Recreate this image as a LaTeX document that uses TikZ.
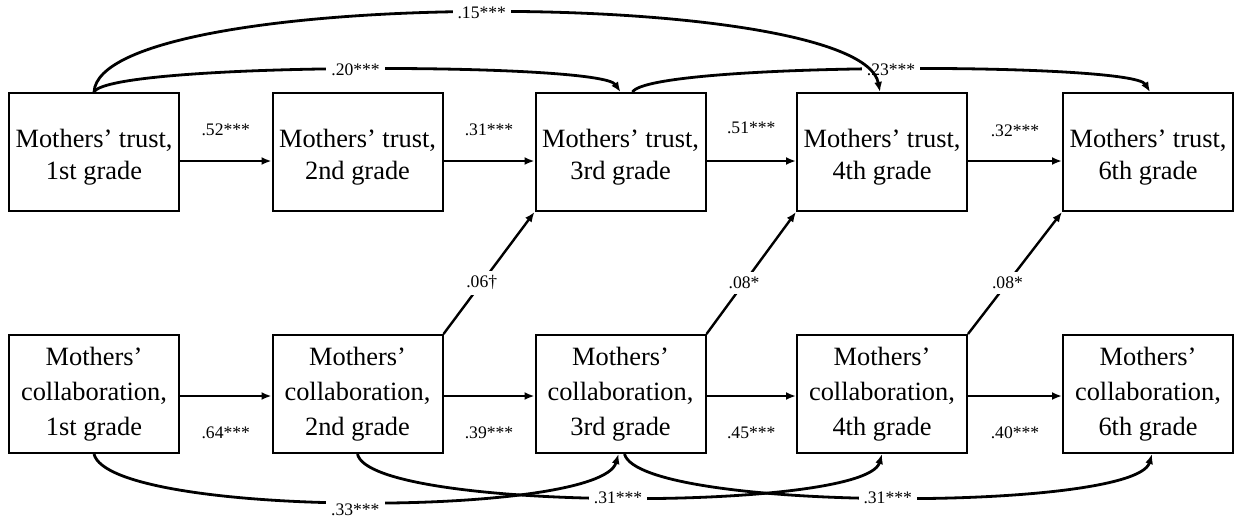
\documentclass[tikz,border=0pt]{standalone}
\usepackage{fontspec}
\setmainfont{Liberation Serif}
\usetikzlibrary{arrows.meta}
\begin{document}
\begin{tikzpicture}[x=0.5pt,y=-0.5pt,
 box/.style={draw, line width=1pt, minimum width=85pt, minimum height=59pt, inner sep=0pt},
 ttext/.style={align=center, inner sep=0pt, font=\fontsize{13.2}{16}\selectfont},
 ctext/.style={align=center, inner sep=0pt, font=\fontsize{13.2}{17.5}\selectfont},
 lab/.style={font=\fontsize{8.8}{10}\selectfont},
 arr/.style={-{Latex[length=5pt,width=4pt]}, line width=1.2pt},
 curve/.style={-{Latex[length=5pt,width=4pt]}, line width=1.4pt},
 onl/.style={lab, fill=white, inner sep=2.5pt}]
\useasboundingbox[fill=white] (0,0) rectangle (1241,525);
% top row
\node[box] (t1) at (94,152) {};
\node[box] (t2) at (357.5,152) {};
\node[box] (t3) at (620.5,152) {};
\node[box] (t4) at (882,152) {};
\node[box] (t5) at (1148,152) {};
\node[ttext] (t1x) at ([yshift=-2.5pt]t1.center) {Mothers’ trust,\\1st grade};
\node[ttext] (t2x) at ([yshift=-2.5pt]t2.center) {Mothers’ trust,\\2nd grade};
\node[ttext] (t3x) at ([yshift=-2.5pt]t3.center) {Mothers’ trust,\\3rd grade};
\node[ttext] (t4x) at ([yshift=-2.5pt]t4.center) {Mothers’ trust,\\4th grade};
\node[ttext] (t5x) at ([yshift=-2.5pt]t5.center) {Mothers’ trust,\\6th grade};
% bottom row
\node[box] (c1) at (94,394) {};
\node[box] (c2) at (357.5,394) {};
\node[box] (c3) at (620.5,394) {};
\node[box] (c4) at (882,394) {};
\node[box] (c5) at (1148,394) {};
\node[ctext] (c1x) at (c1.center) {Mothers’\\collaboration,\\1st grade};
\node[ctext] (c2x) at (c2.center) {Mothers’\\collaboration,\\2nd grade};
\node[ctext] (c3x) at (c3.center) {Mothers’\\collaboration,\\3rd grade};
\node[ctext] (c4x) at (c4.center) {Mothers’\\collaboration,\\4th grade};
\node[ctext] (c5x) at (c5.center) {Mothers’\\collaboration,\\6th grade};
% horizontal top
\draw[arr] ([yshift=-4.5pt]t1.east) -- ([yshift=-4.5pt]t2.west) node[lab, midway, yshift=15.5pt] {.52***};
\draw[arr] ([yshift=-4.5pt]t2.east) -- ([yshift=-4.5pt]t3.west) node[lab, midway, yshift=15.5pt] {.31***};
\draw[arr] ([yshift=-4.5pt]t3.east) -- ([yshift=-4.5pt]t4.west) node[lab, midway, yshift=16.5pt] {.51***};
\draw[arr] ([yshift=-4.5pt]t4.east) -- ([yshift=-4.5pt]t5.west) node[lab, midway, yshift=15pt] {.32***};
% horizontal bottom
\draw[arr] ([yshift=-1pt]c1.east) -- ([yshift=-1pt]c2.west) node[lab, midway, yshift=-18.5pt] {.64***};
\draw[arr] ([yshift=-1pt]c2.east) -- ([yshift=-1pt]c3.west) node[lab, midway, yshift=-18.5pt] {.39***};
\draw[arr] ([yshift=-1pt]c3.east) -- ([yshift=-1pt]c4.west) node[lab, midway, yshift=-18.5pt] {.45***};
\draw[arr] ([yshift=-1pt]c4.east) -- ([yshift=-1pt]c5.west) node[lab, midway, yshift=-18.5pt] {.40***};
% diagonals
\draw[arr] (c2.north east) -- (t3.south west) node[onl, pos=0.42] {.06†};
\draw[arr] (c3.north east) -- (t4.south west) node[onl, pos=0.42] {.08*};
\draw[arr] (c4.north east) -- (t5.south west) node[onl, pos=0.42] {.08*};
% top curves
\draw[curve] (t1.north) .. controls (110,62) and (600,62) .. (t3.north) node[onl, pos=0.5] {.20***};
\draw[curve] ([xshift=6pt]t3.north) .. controls (650,62) and (1132,62) .. ([xshift=1pt]t5.north) node[onl, pos=0.5] {.23***};
\draw[curve] (t1.north) .. controls (100,-14) and (860,-14) .. ([xshift=-1pt]t4.north) node[onl, pos=0.5] {.15***};
% bottom curves
\draw[curve] (c1.south) .. controls (110,518) and (600,518) .. ([xshift=-1pt]c3.south) node[onl, pos=0.5, yshift=-4pt] {.33***};
\draw[curve] (c2.south) .. controls (370,512) and (865,512) .. (c4.south) node[onl, pos=0.5] {.31***};
\draw[curve] ([xshift=2pt]c3.south) .. controls (640,512) and (1135,512) .. ([xshift=2pt]c5.south) node[onl, pos=0.5] {.31***};
\end{tikzpicture}
\end{document}
